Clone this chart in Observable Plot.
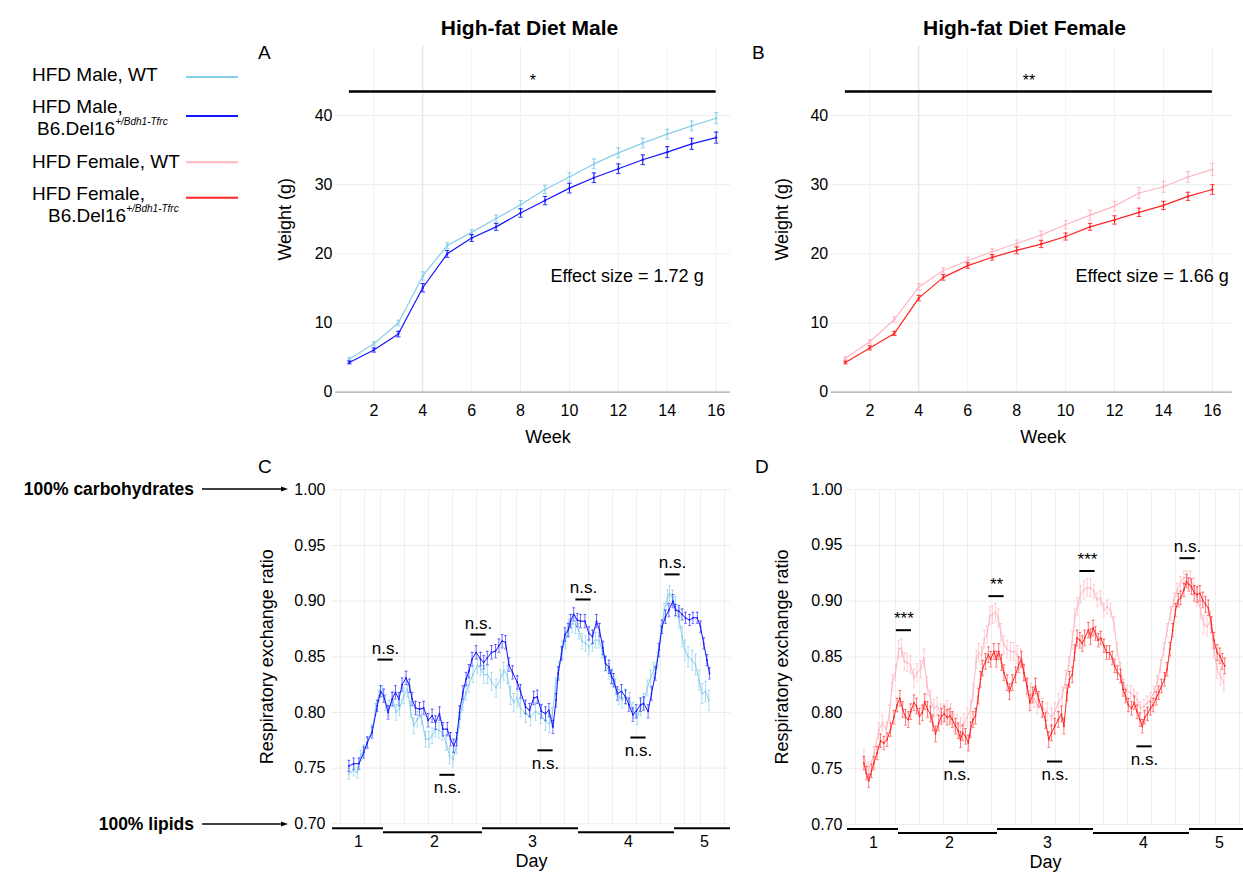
<!DOCTYPE html>
<html><head><meta charset="utf-8">
<script src="https://cdn.jsdelivr.net/npm/d3@7"></script>
<script src="https://cdn.jsdelivr.net/npm/@observablehq/plot@0.6"></script>
<style>
body{margin:0;background:#fff;}
#fig{position:relative;width:1243px;height:873px;overflow:hidden;background:#fff;font-family:"Liberation Sans",Arial,sans-serif;}
#fig svg{position:absolute;}
</style></head><body><div id="fig"></div>
<script>
// ---------- Weight data (panels A, B) ----------
const weeks = [1,2,3,4,5,6,7,8,9,10,11,12,13,14,15,16];
const weekTicks = [2,4,6,8,10,12,14,16];
const markedWeek = [4];
const weightTicks = [0,10,20,30,40];
const maleWT  = [4.8,7.0,10.0,16.8,21.2,23.1,25.1,27.1,29.3,31.1,33.0,34.6,36.0,37.3,38.5,39.6];
const maleMut = [4.3,6.1,8.4,15.1,20.0,22.3,23.9,25.9,27.7,29.5,31.0,32.3,33.6,34.7,35.9,36.8];
const femWT   = [4.9,7.3,10.5,15.2,17.6,19.0,20.3,21.5,22.7,24.2,25.6,26.9,28.8,29.7,31.1,32.2];
const femMut  = [4.3,6.4,8.5,13.6,16.6,18.3,19.5,20.5,21.4,22.5,23.9,24.9,26.0,27.0,28.3,29.3];
const maleWTSem  = [0.2,0.3,0.4,0.6,0.4,0.4,0.5,0.6,0.6,0.6,0.7,0.7,0.7,0.7,0.7,0.8];
const maleMutSem = [0.2,0.3,0.4,0.6,0.5,0.5,0.5,0.6,0.6,0.7,0.7,0.7,0.7,0.8,0.8,0.8];
const femWTSem   = [0.2,0.3,0.4,0.5,0.4,0.5,0.5,0.5,0.6,0.6,0.7,0.7,0.8,0.8,0.8,0.9];
const femMutSem  = [0.2,0.3,0.3,0.4,0.4,0.4,0.4,0.5,0.5,0.5,0.5,0.6,0.6,0.6,0.6,0.7];
const sigA = {from:1, to:16, y:43.45, label:"*"};
const sigB = {from:1, to:16, y:43.45, label:"**"};
const effectA = {week:9.22, weight:15.96, text:"Effect size = 1.72 g"};
const effectB = {week:10.41, weight:15.96, text:"Effect size = 1.66 g"};

// ---------- RER data (panels C, D) ----------
const dayStart = [0, 12.75, 37.5, 61.5, 85.5];
const dayEnd   = [12.75, 37.5, 61.5, 85.5, 99.5];
const dayCenter = [6.5, 25.5, 50, 74, 93];
const dayLabels = ["1","2","3","4","5"];
const rerTicks = [0.70,0.75,0.80,0.85,0.90,0.95,1.00];
const rerGridHours = [2,8,12,18,24,30,36,42,46,52,58,64,70,76,82,88,92,98];

const maleMutHours = [4.1,5.3,6.6,7.8,8.7,9.9,11.2,12,12.8,13.9,14.9,15.75,16.6,17.4,18.4,19.25,19.9,20.75,21.75,22.8,23.9,24.9,25.75,26.75,27.6,28.7,29.5,30.3,31,31.75,32.6,33.4,34.1,34.9,35.9,37,37.8,38.7,39.75,40.75,41.6,42.4,43.25,44.1,45,46.2,47,48.25,49.25,50.3,51.2,52.2,53.25,54.1,55.1,55.9,56.4,57.25,58.1,58.9,59.5,60.3,61.2,62,63.1,64.1,65,66,66.75,67.6,68.25,69.1,69.75,70.3,71.2,72.25,73.25,74.1,75.1,75.9,77,77.8,78.9,79.75,80.75,81.6,82.4,83.25,84.1,85.1,85.75,86.6,87.4,88.25,89.25,90.1,91.2,92,92.8,93.6,94.25];
const maleMutRER = [0.752,0.754,0.754,0.764,0.773,0.782,0.806,0.819,0.815,0.800,0.812,0.818,0.812,0.825,0.831,0.824,0.812,0.804,0.803,0.804,0.793,0.797,0.791,0.799,0.785,0.785,0.776,0.770,0.776,0.800,0.818,0.830,0.837,0.848,0.854,0.848,0.845,0.849,0.854,0.855,0.860,0.864,0.863,0.843,0.836,0.827,0.819,0.805,0.802,0.813,0.814,0.801,0.799,0.802,0.787,0.811,0.835,0.853,0.870,0.874,0.882,0.888,0.883,0.882,0.882,0.871,0.868,0.882,0.874,0.858,0.844,0.841,0.832,0.829,0.817,0.819,0.814,0.807,0.798,0.801,0.807,0.808,0.801,0.817,0.835,0.856,0.877,0.886,0.892,0.900,0.892,0.891,0.888,0.885,0.883,0.885,0.885,0.877,0.862,0.847,0.835];

const maleWTHours = [4.1,5.3,6.2,7,7.8,8.7,9.9,10.75,11.6,12.4,13.25,14.1,15.1,15.9,16.75,17.8,18.7,19.5,20.3,21.2,22.25,23.25,24.1,24.9,25.75,26.6,27.4,28.4,29.25,30.1,31,31.75,32.6,33.4,34.1,35.1,36.2,37,37.8,38.7,39.75,40.9,42,42.8,43.7,44.5,45.3,46.2,47,48.25,49.5,50.75,52,53.25,54.25,54.9,55.75,56.6,57.4,58.25,59.1,59.9,60.75,61.6,62.4,63.25,64.1,65,65.75,66.6,67.4,68.25,69.1,69.9,70.75,71.6,72.4,73.25,74.25,75.1,76.2,77,77.8,78.7,79.5,80.3,81.2,82,82.9,83.75,84.25,85,85.75,86.6,87.4,88.1,88.9,89.9,90.75,91.6,92.4,93.25,94.1];
const maleWTRER = [0.745,0.748,0.746,0.761,0.766,0.773,0.784,0.803,0.815,0.819,0.809,0.804,0.812,0.800,0.804,0.815,0.821,0.803,0.788,0.794,0.796,0.776,0.776,0.779,0.785,0.784,0.782,0.773,0.761,0.758,0.770,0.793,0.809,0.818,0.825,0.834,0.842,0.840,0.834,0.834,0.828,0.822,0.830,0.837,0.834,0.815,0.809,0.813,0.804,0.799,0.796,0.801,0.798,0.792,0.790,0.796,0.823,0.838,0.856,0.865,0.876,0.880,0.879,0.873,0.864,0.862,0.859,0.862,0.865,0.865,0.856,0.844,0.837,0.832,0.823,0.814,0.811,0.814,0.811,0.802,0.796,0.804,0.810,0.822,0.831,0.838,0.847,0.871,0.891,0.903,0.907,0.903,0.895,0.885,0.868,0.856,0.850,0.847,0.843,0.829,0.817,0.819,0.811];

const femMutHours = [4.1,4.7,5.3,6,6.6,7.4,8.25,9.1,9.9,10.75,11.6,12.4,13.1,13.8,14.5,15.2,15.8,16.6,17.25,18,18.7,19.3,20,20.75,21.3,22,22.8,23.5,24.2,24.9,25.6,26.2,27,27.7,28.25,28.8,29.5,30.2,30.75,31.4,32,32.7,33.25,33.8,34.5,35.2,35.8,36.6,37.2,37.8,38.5,39.1,39.9,40.5,41.2,42,42.8,43.5,44.1,44.9,45.6,46.3,47,47.8,48.7,49.5,50.3,51,51.8,52.7,53.5,54.1,54.9,55.5,56.2,56.8,57.4,58.1,58.7,59.3,60.2,60.75,61.4,62,62.7,63.3,64.1,64.75,65.5,66.2,66.8,67.5,68.25,68.9,69.5,70.2,71,71.7,72.4,73.1,73.7,74.3,75,75.75,76.4,77.2,77.8,78.5,79.25,79.9,80.6,81.3,82,82.7,83.3,84.1,84.75,85.3,86,86.7,87.4,88.1,88.8,89.5,90.2,91,91.6,92.4,93.1,93.7,94.3];
const femMutRER = [0.755,0.746,0.739,0.748,0.755,0.764,0.775,0.773,0.776,0.785,0.796,0.807,0.813,0.803,0.796,0.794,0.801,0.809,0.806,0.797,0.800,0.810,0.803,0.799,0.791,0.781,0.791,0.797,0.799,0.796,0.797,0.794,0.788,0.784,0.776,0.782,0.779,0.773,0.785,0.794,0.797,0.815,0.830,0.840,0.846,0.852,0.848,0.855,0.848,0.855,0.845,0.836,0.827,0.819,0.827,0.834,0.843,0.848,0.836,0.824,0.809,0.816,0.824,0.812,0.803,0.793,0.776,0.782,0.788,0.794,0.799,0.788,0.818,0.830,0.834,0.854,0.867,0.865,0.862,0.867,0.874,0.868,0.876,0.871,0.865,0.867,0.860,0.854,0.854,0.849,0.842,0.836,0.833,0.821,0.815,0.807,0.804,0.809,0.801,0.794,0.788,0.796,0.799,0.804,0.807,0.813,0.818,0.824,0.830,0.839,0.857,0.874,0.892,0.901,0.903,0.910,0.918,0.915,0.913,0.907,0.906,0.907,0.901,0.897,0.894,0.879,0.865,0.854,0.851,0.846,0.842];

const femWTHours = [4.1,5.3,6.6,7.8,8.7,9.7,10.5,11.2,12,12.8,13.5,14.2,14.9,15.75,16.6,17.4,18.25,19.1,19.9,20.75,21.6,22.4,23.25,24.1,24.9,25.75,26.6,27.4,28.25,29.1,29.9,30.75,31.4,32.2,32.8,33.5,34.2,34.9,35.6,36.25,37,37.7,38.3,39.1,39.9,40.75,41.6,42.4,43.25,44.1,44.9,45.75,46.6,47.4,48.7,49.9,51,51.8,52.7,53.7,54.5,55.3,56.2,56.8,57.5,58.25,59.1,59.9,60.75,61.6,62.4,63.25,64.1,64.9,65.75,66.6,67.4,68.25,69.1,69.9,70.75,71.6,72.4,73.25,74.1,74.9,75.75,76.6,77.4,78.25,79.1,79.9,80.75,81.6,82.4,83.25,84.1,84.9,85.75,86.6,87.4,88.25,89.1,89.9,90.75,91.6,92.4,93.25,94.1];
const femWTRER = [0.760,0.749,0.763,0.784,0.791,0.785,0.800,0.827,0.836,0.857,0.858,0.846,0.845,0.843,0.831,0.836,0.839,0.849,0.824,0.812,0.804,0.806,0.800,0.800,0.803,0.800,0.791,0.790,0.788,0.791,0.796,0.803,0.818,0.848,0.854,0.851,0.866,0.870,0.887,0.888,0.890,0.885,0.872,0.861,0.857,0.855,0.855,0.852,0.849,0.836,0.822,0.818,0.813,0.807,0.805,0.801,0.796,0.801,0.809,0.815,0.830,0.842,0.865,0.885,0.895,0.906,0.910,0.912,0.912,0.909,0.901,0.903,0.892,0.895,0.892,0.880,0.857,0.839,0.824,0.819,0.818,0.815,0.812,0.804,0.806,0.809,0.812,0.818,0.827,0.842,0.857,0.874,0.889,0.901,0.910,0.916,0.921,0.921,0.919,0.913,0.904,0.892,0.879,0.877,0.883,0.857,0.839,0.833,0.827];

// standard errors per recording day
const maleWTRERSem  = [0.005,0.007,0.008,0.007,0.009];
const maleMutRERSem = [0.005,0.006,0.006,0.006,0.005];
const femWTRERSem   = [0.007,0.008,0.008,0.006,0.008];
const femMutRERSem  = [0.006,0.007,0.007,0.006,0.007];

// significance annotations
const sigCHours  = [13.25, 28.75, 36.5, 53.25, 62.75, 76.5, 85];
const sigCLevels = [0.8475, 0.744, 0.870, 0.766, 0.9015, 0.7775, 0.924];
const sigCLabels = ["n.s.","n.s.","n.s.","n.s.","n.s.","n.s.","n.s."];
const sigCSide   = ["above","below","above","below","above","below","above"];
const sigDHours  = [14.1, 27.4, 37.25, 51.9, 60, 74.25, 85];
const sigDLevels = [0.874, 0.7564, 0.9045, 0.7564, 0.927, 0.770, 0.9385];
const sigDLabels = ["***","n.s.","**","n.s.","***","n.s.","n.s."];
const sigDSide   = ["above","below","above","below","above","below","above"];

// colours
const cMaleWT = "#87ceeb", cMaleMut = "#1414ff", cFemWT = "#ffb6c1", cFemMut = "#ff2424";

const FONT = "Liberation Sans, Arial, sans-serif";
const fig = document.getElementById("fig");
function place(node, left, top){ node.style.left = left + "px"; node.style.top = top + "px"; fig.appendChild(node); }

function weightPanel(o){
  const rows = (vals, sems) => weeks.map((w,i)=>({w, v:vals[i], s:sems[i]}));
  const wt = rows(o.wt, o.wtSem), mut = rows(o.mut, o.mutSem);
  const series = (data, color) => [
    Plot.ruleX(data, {x:"w", y1:d=>d.v-d.s, y2:d=>d.v+d.s, stroke:color, strokeWidth:1.1}),
    Plot.link(data, {x1:d=>d.w-0.09, x2:d=>d.w+0.09, y1:d=>d.v+d.s, y2:d=>d.v+d.s, stroke:color, strokeWidth:0.9}),
    Plot.link(data, {x1:d=>d.w-0.09, x2:d=>d.w+0.09, y1:d=>d.v-d.s, y2:d=>d.v-d.s, stroke:color, strokeWidth:0.9}),
    Plot.line(data, {x:"w", y:"v", stroke:color, strokeWidth:1.2}),
    Plot.dot(data, {x:"w", y:"v", r:1.2, fill:color})
  ];
  return Plot.plot({
    width:o.width, height:430, marginLeft:o.ml, marginRight:o.mr, marginTop:15.8, marginBottom:68.3,
    x:{domain:o.xDomain}, y:{domain:[0,50]},
    style:{fontFamily:FONT, fontSize:"16px", overflow:"visible", background:"none", color:"#000"},
    marks:[
      Plot.gridY(weightTicks.slice(1), {stroke:"#ececec", strokeOpacity:1}),
      Plot.gridX(weekTicks, {stroke:"#f1f1f1", strokeOpacity:1}),
      Plot.gridX(markedWeek, {stroke:"#e2e2e2", strokeOpacity:1}),
      Plot.ruleY([0], {stroke:"#a6a6a6", strokeWidth:1.2}),
      ...series(wt, o.wtColor),
      ...series(mut, o.mutColor),
      Plot.ruleY([o.sig], {x1:"from", x2:"to", y:"y", stroke:"#000", strokeWidth:2.5}),
      Plot.text([o.sig], {x:d=>(d.from+d.to)/2, y:"y", text:"label", dy:-6, lineAnchor:"bottom", fontSize:16}),
      Plot.text([o.effect], {x:"week", y:"weight", text:"text", textAnchor:"start", lineAnchor:"bottom", fontSize:18}),
      Plot.axisY(weightTicks, {tickSize:0, tickPadding:3, fontSize:16, label:null}),
      Plot.axisX(weekTicks, {tickSize:0, tickPadding:12, fontSize:16, label:null}),
      Plot.text(["Weight (g)"], {text:d=>d, frameAnchor:"left", rotate:-90, dx:-o.yLabelOffset, textAnchor:"middle", lineAnchor:"top", fontSize:18}),
      Plot.text(["Week"], {text:d=>d, frameAnchor:"bottom", dx:o.xLabelDx, dy:51, textAnchor:"middle", lineAnchor:"bottom", fontSize:18})
    ]
  });
}

function dayOf(h){ for (let k = 0; k < dayStart.length; k++) if (h < dayEnd[k]) return k; return dayStart.length-1; }

function rerPanel(o){
  const rows = (H, V, sem) => H.map((h,i)=>({h, v:V[i], s:sem[dayOf(h)]}));
  const wt = rows(o.wtH, o.wtV, o.wtSem), mut = rows(o.mutH, o.mutV, o.mutSem);
  const days = dayStart.map((s,i)=>({start:s, end:Math.min(dayEnd[i], o.xMax), i}));
  const sig = o.sigH.map((h,i)=>({h, y:o.sigY[i], label:o.sigL[i], side:o.sigS[i]}));
  const series = (data, color, op) => [
    Plot.ruleX(data, {x:"h", y1:d=>d.v-d.s, y2:d=>d.v+d.s, stroke:color, strokeWidth:0.8, strokeOpacity:op}),
    Plot.link(data, {x1:d=>d.h-0.35, x2:d=>d.h+0.35, y1:d=>d.v+d.s, y2:d=>d.v+d.s, stroke:color, strokeWidth:0.8, strokeOpacity:op}),
    Plot.link(data, {x1:d=>d.h-0.35, x2:d=>d.h+0.35, y1:d=>d.v-d.s, y2:d=>d.v-d.s, stroke:color, strokeWidth:0.8, strokeOpacity:op}),
    Plot.line(data, {x:"h", y:"v", stroke:color, strokeWidth:1}),
    Plot.dot(data, {x:"h", y:"v", r:0.9, fill:color})
  ];
  return Plot.plot({
    width:o.width, height:403, marginLeft:o.ml, marginRight:o.mr, marginTop:o.mt, marginBottom:o.mb,
    x:{domain:[0, o.xMax]}, y:{domain:[0.70, 1.00]},
    style:{fontFamily:FONT, fontSize:"16px", overflow:"visible", background:"none", color:"#000"},
    marks:[
      Plot.gridY(rerTicks, {stroke:"#ececec", strokeOpacity:1}),
      Plot.gridX(rerGridHours, {stroke:"#efefef", strokeOpacity:1}),
      ...series(wt, o.wtColor, 0.85),
      ...series(mut, o.mutColor, 0.75),
      Plot.ruleY(sig, {x1:d=>d.h-1.9, x2:d=>d.h+1.9, y:"y", stroke:"#000", strokeWidth:2}),
      Plot.text(sig.filter(d=>d.side==="above"), {x:"h", y:"y", text:"label", dy:-6, lineAnchor:"bottom", fontSize:17}),
      Plot.text(sig.filter(d=>d.side==="below"), {x:"h", y:"y", text:"label", dy:18.5, lineAnchor:"bottom", fontSize:17}),
      Plot.ruleY(days.filter(d=>d.i%2===0), {x1:"start", x2:"end", y:0.70, dy:4.4, stroke:"#000", strokeWidth:2}),
      Plot.ruleY(days.filter(d=>d.i%2===1), {x1:"start", x2:"end", y:0.70, dy:8.4, stroke:"#000", strokeWidth:2}),
      Plot.axisY(rerTicks, {tickSize:0, tickPadding:o.tickPad, fontSize:16, tickFormat:d3.format(".2f"), label:null}),
      Plot.axisX(dayCenter, {tickSize:0, tickPadding:12, fontSize:16, tickFormat:(d,i)=>dayLabels[i], label:null}),
      Plot.text(["Respiratory exchange ratio"], {text:d=>d, frameAnchor:"left", rotate:-90, dx:-72, textAnchor:"middle", lineAnchor:"top", fontSize:18}),
      Plot.text(["Day"], {text:d=>d, frameAnchor:"bottom", dy:43, textAnchor:"middle", lineAnchor:"bottom", fontSize:18})
    ]
  });
}

place(weightPanel({width:490, ml:85, mr:10, xDomain:[0.4315,16.587], wt:maleWT, mut:maleMut, wtSem:maleWTSem, mutSem:maleMutSem,
  wtColor:cMaleWT, mutColor:cMaleMut, sig:sigA, effect:effectA, yLabelOffset:57, xLabelDx:15}), 250, 30);
place(weightPanel({width:503, ml:90.7, mr:11.3, xDomain:[0.42,16.81], wt:femWT, mut:femMut, wtSem:femWTSem, mutSem:femMutSem,
  wtColor:cFemWT, mutColor:cFemMut, sig:sigB, effect:effectB, yLabelOffset:55.7, xLabelDx:11.5}), 740, 30);
place(rerPanel({width:490, ml:82, mr:10, mt:19.3, mb:49.7, xMax:99.5, tickPad:7,
  wtH:maleWTHours, wtV:maleWTRER, mutH:maleMutHours, mutV:maleMutRER, wtSem:maleWTRERSem, mutSem:maleMutRERSem,
  wtColor:cMaleWT, mutColor:cMaleMut, sigH:sigCHours, sigY:sigCLevels, sigL:sigCLabels, sigS:sigCSide}), 250, 470);
place(rerPanel({width:503, ml:107, mr:0, mt:19, mb:49, xMax:99, tickPad:5,
  wtH:femWTHours, wtV:femWTRER, mutH:femMutHours, mutV:femMutRER, wtSem:femWTRERSem, mutSem:femMutRERSem,
  wtColor:cFemWT, mutColor:cFemMut, sigH:sigDHours, sigY:sigDLevels, sigL:sigDLabels, sigS:sigDSide}), 740, 470);

// ---------- overlay: titles, panel letters, legend, side labels ----------
const ov = d3.create("svg").attr("width", 1243).attr("height", 873)
  .style("left","0px").style("top","0px").style("pointer-events","none")
  .attr("font-family", FONT);
const titles = [
  {t:"High-fat Diet Male", x:529.5, y:35},
  {t:"High-fat Diet Female", x:1024.5, y:35}];
ov.selectAll("text.title").data(titles).join("text").attr("class","title")
  .attr("x",d=>d.x).attr("y",d=>d.y).attr("text-anchor","middle").attr("font-weight","bold").attr("font-size",21).text(d=>d.t);
const letters = [{t:"A",x:258,y:59},{t:"B",x:752,y:59},{t:"C",x:258,y:473},{t:"D",x:755,y:473}];
ov.selectAll("text.letter").data(letters).join("text").attr("class","letter")
  .attr("x",d=>d.x).attr("y",d=>d.y).attr("font-size",19).text(d=>d.t);

const legendItems = [
  {lines:["HFD Male, WT"], color:cMaleWT, y:81, ly:77, x2:32},
  {lines:["HFD Male,","B6.Del16"], color:cMaleMut, y:113, ly:116, x2:37},
  {lines:["HFD Female, WT"], color:cFemWT, y:168, ly:162.3, x2:32},
  {lines:["HFD Female,","B6.Del16"], color:cFemMut, y:200, ly:197.7, x2:48}];
legendItems.forEach(it=>{
  ov.append("text").attr("x",32).attr("y",it.y).attr("font-size",19).text(it.lines[0]);
  if (it.lines.length>1){
    const t = ov.append("text").attr("x",it.x2).attr("y",it.y+22).attr("font-size",19);
    t.append("tspan").text(it.lines[1]);
    t.append("tspan").attr("font-size",10).attr("font-style","italic").attr("dy",-10).text("+/Bdh1-Tfrc");
  }
  ov.append("line").attr("x1",186).attr("x2",238).attr("y1",it.ly).attr("y2",it.ly)
    .attr("stroke",it.color).attr("stroke-width",2);
});

const side = [{t:"100% carbohydrates", y:489, by:494.5},{t:"100% lipids", y:824, by:829.5}];
side.forEach(s=>{
  ov.append("text").attr("x",194).attr("y",s.by).attr("text-anchor","end").attr("font-weight","bold").attr("font-size",17.5).text(s.t);
  ov.append("line").attr("x1",202).attr("x2",282).attr("y1",s.y).attr("y2",s.y).attr("stroke","#000").attr("stroke-width",1.3);
  ov.append("path").attr("d",`M281,${s.y-2.6}L288,${s.y}L281,${s.y+2.6}Z`).attr("fill","#000");
});
fig.appendChild(ov.node());
</script>
</body></html>
